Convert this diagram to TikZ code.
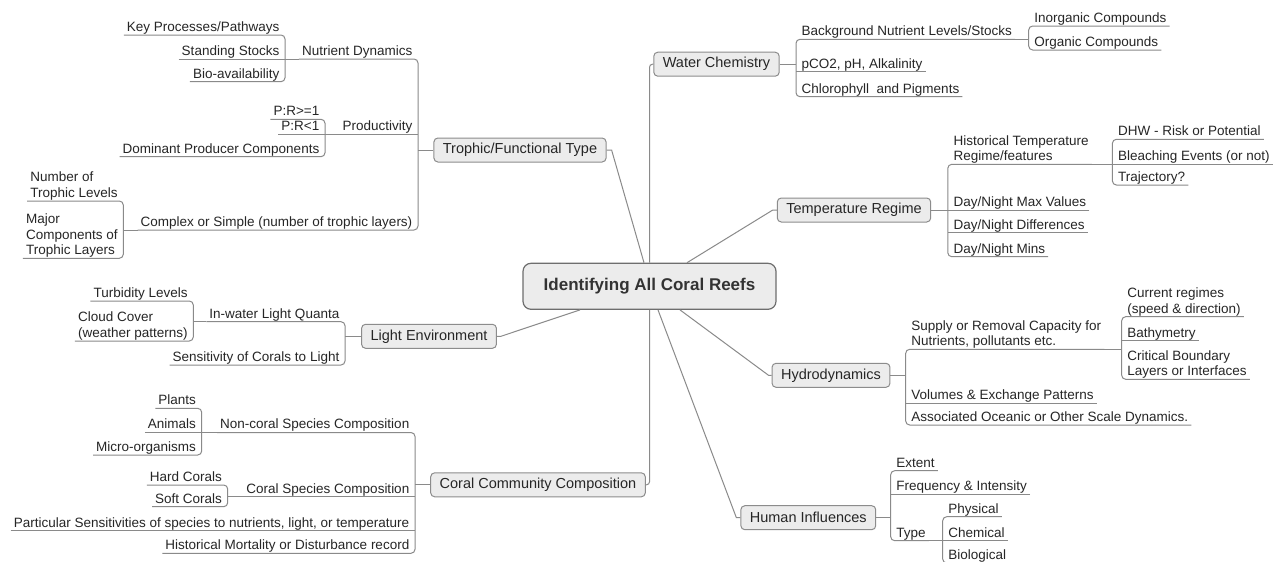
\documentclass[tikz,border=0pt]{standalone}
\usepackage{fontspec}
\setmainfont{Liberation Sans}
\definecolor{inkc}{HTML}{262626}
\definecolor{rootink}{HTML}{333333}
\definecolor{linec}{HTML}{8A8A8A}
\definecolor{boxfill}{HTML}{ECECEC}
\definecolor{boxline}{HTML}{8C8C8C}
\definecolor{rootline}{HTML}{6E6E6E}
\newcommand\leaffont{\fontsize{13.5}{15.5}\selectfont}
\newcommand\topicfont{\fontsize{14.5}{17}\selectfont}
\newcommand\rootfont{\fontsize{17}{20}\selectfont\bfseries}
% several lines of a subtopic, aligned on the baseline of the last line
\newcommand\mlines[1]{\begin{tabular}[b]{@{}l@{}}#1\end{tabular}}

\tikzset{
  conn/.style={draw=linec, line width=1pt},
  bracket/.style={conn, rounded corners=4pt},
  leaf/.style={font=\leaffont, text=inkc, inner xsep=3pt, inner ysep=0pt, text depth=3.5pt},
  rleaf/.style={leaf, anchor=south west, xshift=2.5pt},
  lleaf/.style={leaf, anchor=south east, xshift=-2.5pt},
  topic/.style={draw=boxline, fill=boxfill, line width=1pt, rounded corners=4pt,
    font=\topicfont, text=inkc, inner xsep=9pt, inner ysep=0pt, minimum height=24pt},
  root/.style={draw=rootline, fill=boxfill, line width=1.2pt, rounded corners=8pt,
    font=\rootfont, text=rootink, minimum width=253pt, minimum height=46pt},
}

\begin{document}
\begin{tikzpicture}[x=1pt, y=-1pt]
\useasboundingbox (0,0) rectangle (1283,562);
\fill[white] (0,0) rectangle (1283,562);

% ---------------- central topic and main topics ----------------
\node[root] (C) at (649.5,286.3) {Identifying All Coral Reefs};
\node[topic] (tft) at (520,150) {Trophic/Functional Type};
\node[topic] (wc) at (716.5,64.2) {Water Chemistry};
\node[topic] (tr) at (854,210) {Temperature Regime};
\node[topic] (le) at (429,336.3) {Light Environment};
\node[topic] (hy) at (831,375.3) {Hydrodynamics};
\node[topic] (ccc) at (538,484.8) {Coral Community Composition};
\node[topic] (hi) at (808.3,517.7) {Human Influences};

\draw[conn] ([xshift=-5.5pt]C.north) -- ([xshift=5pt]tft.east) -- (tft.east);
\draw[conn, rounded corners=3pt] (C.north) |- (wc.west);
\draw[conn] ([xshift=37.5pt]C.north) -- ([xshift=-4pt]tr.west) -- (tr.west);
\draw[conn] ([xshift=-69.5pt]C.south) -- ([xshift=4pt]le.east) -- (le.east);
\draw[conn, rounded corners=3pt] (C.south) |- (ccc.east);
\draw[conn] ([xshift=30.5pt]C.south) -- ([xshift=-3pt]hy.west) -- (hy.west);
\draw[conn] ([xshift=8.5pt]C.south) -- ([xshift=-4pt]hi.west) -- (hi.west);

% ---------------- Trophic/Functional Type ----------------
\coordinate (bT) at (418,0);
\node[lleaf] (nd) at (418,59) {Nutrient Dynamics};
\node[lleaf] (pr) at (418,134.3) {Productivity};
\node[lleaf] (cs) at (418,230) {Complex or Simple (number of trophic layers)};
\draw[conn] (tft.west) -- (tft.west -| bT);
\draw[bracket] (nd.south west) -- (nd.south east -| bT) -- (cs.south east -| bT) -- (cs.south west);
\draw[conn] (pr.south west) -- (pr.south east -| bT);

\coordinate (bND) at (285,0);
\node[lleaf] (kp) at (285,35) {Key Processes/Pathways};
\node[lleaf] (ss) at (285,59) {Standing Stocks};
\node[lleaf] (bav) at (285,81.7) {Bio-availability};
\draw[conn] (nd.south west) -- (nd.south west -| bND);
\draw[bracket] (kp.south west) -- (kp.south east -| bND) -- (bav.south east -| bND) -- (bav.south west);
\draw[conn] (ss.south west) -- (ss.south east -| bND);

\coordinate (bPR) at (325,0);
\node[lleaf] (pra) at (325,119.3) {P:R>=1};
\node[lleaf] (prb) at (325,134.3) {P:R<1};
\node[lleaf] (dpc) at (325,156.7) {Dominant Producer Components};
\draw[conn] (pr.south west) -- (pr.south west -| bPR);
\draw[bracket] (pra.south west) -- (pra.south east -| bPR) -- (dpc.south east -| bPR) -- (dpc.south west);
\draw[conn] (prb.south west) -- (prb.south east -| bPR);

\coordinate (bCS) at (123.3,0);
\node[lleaf] (ntl) at (123.3,201) {\mlines{Number of\\Trophic Levels}};
\node[lleaf] (mct) at (123.3,258.3) {\mlines{Major\\Components of\\Trophic Layers}};
\draw[conn] (cs.south west) -- (cs.south west -| bCS);
\draw[bracket] (ntl.south west) -- (ntl.south east -| bCS) -- (mct.south east -| bCS) -- (mct.south west);

% ---------------- Light Environment ----------------
\coordinate (bLE) at (345,0);
\node[lleaf] (iw) at (345,321.7) {In-water Light Quanta};
\node[lleaf] (scl) at (345,365) {Sensitivity of Corals to Light};
\draw[conn] (le.west) -- (le.west -| bLE);
\draw[bracket] (iw.south west) -- (iw.south east -| bLE) -- (scl.south east -| bLE) -- (scl.south west);

\coordinate (bIW) at (193.3,0);
\node[lleaf] (tbl) at (193.3,301) {Turbidity Levels};
\node[lleaf] (ccw) at (193.3,341) {\mlines{Cloud Cover\\(weather patterns)}};
\draw[conn] (iw.south west) -- (iw.south west -| bIW);
\draw[bracket] (tbl.south west) -- (tbl.south east -| bIW) -- (ccw.south east -| bIW) -- (ccw.south west);

% ---------------- Coral Community Composition ----------------
\coordinate (bCC) at (415,0);
\node[lleaf] (ncs) at (415,432.5) {Non-coral Species Composition};
\node[lleaf] (csc) at (415,496.7) {Coral Species Composition};
\node[lleaf] (pss) at (415,530.7) {Particular Sensitivities of species to nutrients, light, or temperature};
\node[lleaf] (hmd) at (415,553.3) {Historical Mortality or Disturbance record};
\draw[conn] (ccc.west) -- (ccc.west -| bCC);
\draw[bracket] (ncs.south west) -- (ncs.south east -| bCC) -- (hmd.south east -| bCC) -- (hmd.south west);
\draw[conn] (csc.south west) -- (csc.south east -| bCC);
\draw[conn] (pss.south west) -- (pss.south east -| bCC);

\coordinate (bNC) at (201.7,0);
\node[lleaf] (plt) at (201.7,408.3) {Plants};
\node[lleaf] (anm) at (201.7,432.5) {Animals};
\node[lleaf] (mio) at (201.7,455) {Micro-organisms};
\draw[conn] (ncs.south west) -- (ncs.south west -| bNC);
\draw[bracket] (plt.south west) -- (plt.south east -| bNC) -- (mio.south east -| bNC) -- (mio.south west);
\draw[conn] (anm.south west) -- (anm.south east -| bNC);

\coordinate (bCSC) at (227.7,0);
\node[lleaf] (hdc) at (227.7,485) {Hard Corals};
\node[lleaf] (sfc) at (227.7,506.7) {Soft Corals};
\draw[conn] (csc.south west) -- (csc.south west -| bCSC);
\draw[bracket] (hdc.south west) -- (hdc.south east -| bCSC) -- (sfc.south east -| bCSC) -- (sfc.south west);

% ---------------- Water Chemistry ----------------
\coordinate (bWC) at (796,0);
\node[rleaf] (bnl) at (796,39.3) {Background Nutrient Levels/Stocks};
\node[rleaf] (pco) at (796,71.7) {pCO2, pH, Alkalinity};
\node[rleaf] (chl) at (796,96.7) {Chlorophyll\ \ and Pigments};
\draw[conn] (wc.east) -- (wc.east -| bWC);
\draw[bracket] (bnl.south east) -- (bnl.south west -| bWC) -- (chl.south west -| bWC) -- (chl.south east);
\draw[conn] (pco.south east) -- (pco.south west -| bWC);

\coordinate (bBN) at (1028.7,0);
\node[rleaf] (inc) at (1028.7,26) {Inorganic Compounds};
\node[rleaf] (orc) at (1028.7,50) {Organic Compounds};
\draw[conn] (bnl.south east) -- (bnl.south east -| bBN);
\draw[bracket] (inc.south east) -- (inc.south west -| bBN) -- (orc.south west -| bBN) -- (orc.south east);

% ---------------- Temperature Regime ----------------
\coordinate (bTR) at (947.8,0);
\node[rleaf] (htr) at (947.8,164.3) {\mlines{Historical Temperature\\Regime/features}};
\node[rleaf] (dmx) at (947.8,210) {Day/Night Max Values};
\node[rleaf] (ddf) at (947.8,232.7) {Day/Night Differences};
\node[rleaf] (dmn) at (947.8,256.7) {Day/Night Mins};
\draw[conn] (tr.east) -- (tr.east -| bTR);
\draw[bracket] (htr.south east) -- (htr.south west -| bTR) -- (dmn.south west -| bTR) -- (dmn.south east);
\draw[conn] (dmx.south east) -- (dmx.south west -| bTR);
\draw[conn] (ddf.south east) -- (ddf.south west -| bTR);

\coordinate (bHT) at (1112.4,0);
\node[rleaf] (dhw) at (1112.4,139.3) {DHW - Risk or Potential};
\node[rleaf] (ble) at (1112.4,164.3) {Bleaching Events (or not)};
\node[rleaf] (trj) at (1112.4,185) {Trajectory?};
\draw[conn] (htr.south east) -- (htr.south east -| bHT);
\draw[bracket] (dhw.south east) -- (dhw.south west -| bHT) -- (trj.south west -| bHT) -- (trj.south east);
\draw[conn] (ble.south east) -- (ble.south west -| bHT);

% ---------------- Hydrodynamics ----------------
\coordinate (bHY) at (905.7,0);
\node[rleaf] (srm) at (905.7,349.3) {\mlines{Supply or Removal Capacity for\\Nutrients, pollutants etc.}};
\node[rleaf] (vep) at (905.7,403.3) {Volumes \& Exchange Patterns};
\node[rleaf] (aos) at (905.7,425) {Associated Oceanic or Other Scale Dynamics.};
\draw[conn] (hy.east) -- (hy.east -| bHY);
\draw[bracket] (srm.south east) -- (srm.south west -| bHY) -- (aos.south west -| bHY) -- (aos.south east);
\draw[conn] (vep.south east) -- (vep.south west -| bHY);

\coordinate (bSR) at (1121.7,0);
\node[rleaf] (cur) at (1121.7,316.7) {\mlines{Current regimes\\(speed \& direction)}};
\node[rleaf] (bat) at (1121.7,340.7) {Bathymetry};
\node[rleaf] (cbl) at (1121.7,379.3) {\mlines{Critical Boundary\\Layers or Interfaces}};
\draw[conn] (srm.south east) -- (srm.south east -| bSR);
\draw[bracket] (cur.south east) -- (cur.south west -| bSR) -- (cbl.south west -| bSR) -- (cbl.south east);
\draw[conn] (bat.south east) -- (bat.south west -| bSR);

% ---------------- Human Influences ----------------
\coordinate (bHI) at (890.7,0);
\node[rleaf] (ext) at (890.7,470.7) {Extent};
\node[rleaf] (fri) at (890.7,494) {Frequency \& Intensity};
\node[rleaf] (typ) at (890.7,540.7) {Type};
\draw[conn] (hi.east) -- (hi.east -| bHI);
\draw[bracket] (ext.south east) -- (ext.south west -| bHI) -- (typ.south west -| bHI) -- (typ.south east);
\draw[conn] (fri.south east) -- (fri.south west -| bHI);

\coordinate (bTY) at (942.7,0);
\node[rleaf] (phy) at (942.7,516.7) {Physical};
\node[rleaf] (chm) at (942.7,540.7) {Chemical};
\node[rleaf] (bio) at (942.7,563) {Biological};
\draw[conn] (typ.south east) -- (typ.south east -| bTY);
\draw[bracket] (phy.south east) -- (phy.south west -| bTY) -- (bio.south west -| bTY) -- (bio.south east);
\draw[conn] (chm.south east) -- (chm.south west -| bTY);
\end{tikzpicture}
\end{document}
